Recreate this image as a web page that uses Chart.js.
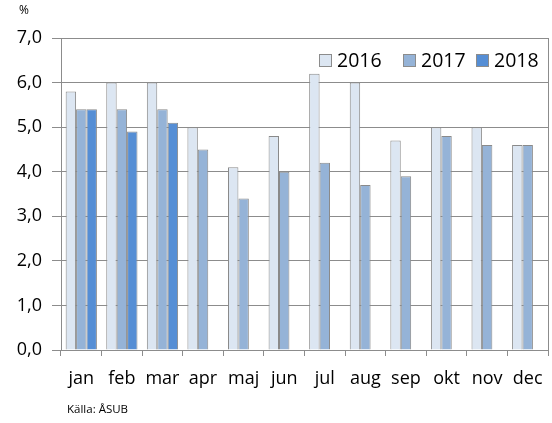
<!DOCTYPE html>
<html>
<head>
<meta charset="utf-8">
<script src="https://cdn.jsdelivr.net/npm/chart.js@4"></script>
<style>
html,body{margin:0;padding:0;background:#fff;}
#wrap{position:relative;width:552px;height:423px;}
</style>
</head>
<body>
<div id="wrap"><canvas id="c"></canvas></div>
<script>
const months = ['jan','feb','mar','apr','maj','jun','jul','aug','sep','okt','nov','dec'];
const seriesLabels = ['2016','2017','2018'];
const values2016 = [5.8,6.0,6.0,5.0,4.1,4.8,6.2,6.0,4.7,5.0,5.0,4.6];
const values2017 = [5.4,5.4,5.4,4.5,3.4,4.0,4.2,3.7,3.9,4.8,4.6,4.6];
const values2018 = [5.4,4.9,5.1,null,null,null,null,null,null,null,null,null];
const colors = ['#dce6f2','#95b3d7','#558ed5'];
const unitLabel = '%';
const sourceLabel = 'Källa: ÅSUB';

const FONT = '"Open Sans", sans-serif';
const GRID = '#8c8c8c';

const extras = {
  id: 'extras',
  afterDraw(chart) {
    const ctx = chart.ctx;
    const a = chart.chartArea;
    ctx.save();
    // right border
    ctx.strokeStyle = GRID;
    ctx.lineWidth = 1;
    ctx.beginPath();
    ctx.moveTo(Math.round(a.right) + 0.5, a.top);
    ctx.lineTo(Math.round(a.right) + 0.5, a.bottom);
    ctx.stroke();
    // unit label
    ctx.fillStyle = '#000';
    ctx.font = '12px ' + FONT;
    ctx.textBaseline = 'middle';
    ctx.textAlign = 'left';
    ctx.fillText(unitLabel, 19, 11);
    // source
    ctx.font = '11.5px ' + FONT;
    ctx.fillText(sourceLabel, 67, 410);
    // legend
    ctx.font = '19.5px ' + FONT;
    const starts = [319, 403, 476];
    chart.data.datasets.forEach((ds, i) => {
      const x = starts[i];
      const y = 61;
      ctx.fillStyle = ds.backgroundColor;
      ctx.fillRect(x, y - 7, 13, 13);
      ctx.strokeStyle = '#8c8c8c';
      ctx.strokeRect(x + 0.5, y - 6.5, 12, 12);
      ctx.fillStyle = '#000';
      ctx.fillText(ds.label, x + 18, y);
    });
    ctx.restore();
  }
};

new Chart(document.getElementById('c'), {
  type: 'bar',
  data: {
    labels: months,
    datasets: [
      {label: seriesLabels[0], data: values2016, backgroundColor: colors[0]},
      {label: seriesLabels[1], data: values2017, backgroundColor: colors[1]},
      {label: seriesLabels[2], data: values2018, backgroundColor: colors[2]}
    ].map(d => Object.assign(d, {borderColor: '#8a8a8a', borderWidth: 1, categoryPercentage: 0.77, barPercentage: 1.0}))
  },
  options: {
    responsive: true,
    maintainAspectRatio: false,
    animation: false,
    layout: {padding: {left: 0, right: 4, top: 38, bottom: 28}},
    plugins: {legend: {display: false}, tooltip: {enabled: false}},
    scales: {
      x: {
        offset: true,
        grid: {offset: true, drawOnChartArea: false, drawTicks: true, tickLength: 6, color: GRID},
        border: {color: GRID},
        ticks: {color: '#000', font: {family: FONT, size: 18}, padding: 12, maxRotation: 0, autoSkip: false},
        afterFit(s) { s.height = 45; s.paddingRight = 0; s.paddingLeft = 0; }
      },
      y: {
        min: 0, max: 7,
        grid: {color: GRID, tickLength: 9},
        border: {color: GRID},
        ticks: {stepSize: 1, color: '#000', font: {family: FONT, size: 18}, padding: 10,
          callback: v => v.toFixed(1).replace('.', ',')},
        afterFit(s) { s.width = 61; }
      }
    }
  },
  plugins: [extras]
});
</script>
</body>
</html>
